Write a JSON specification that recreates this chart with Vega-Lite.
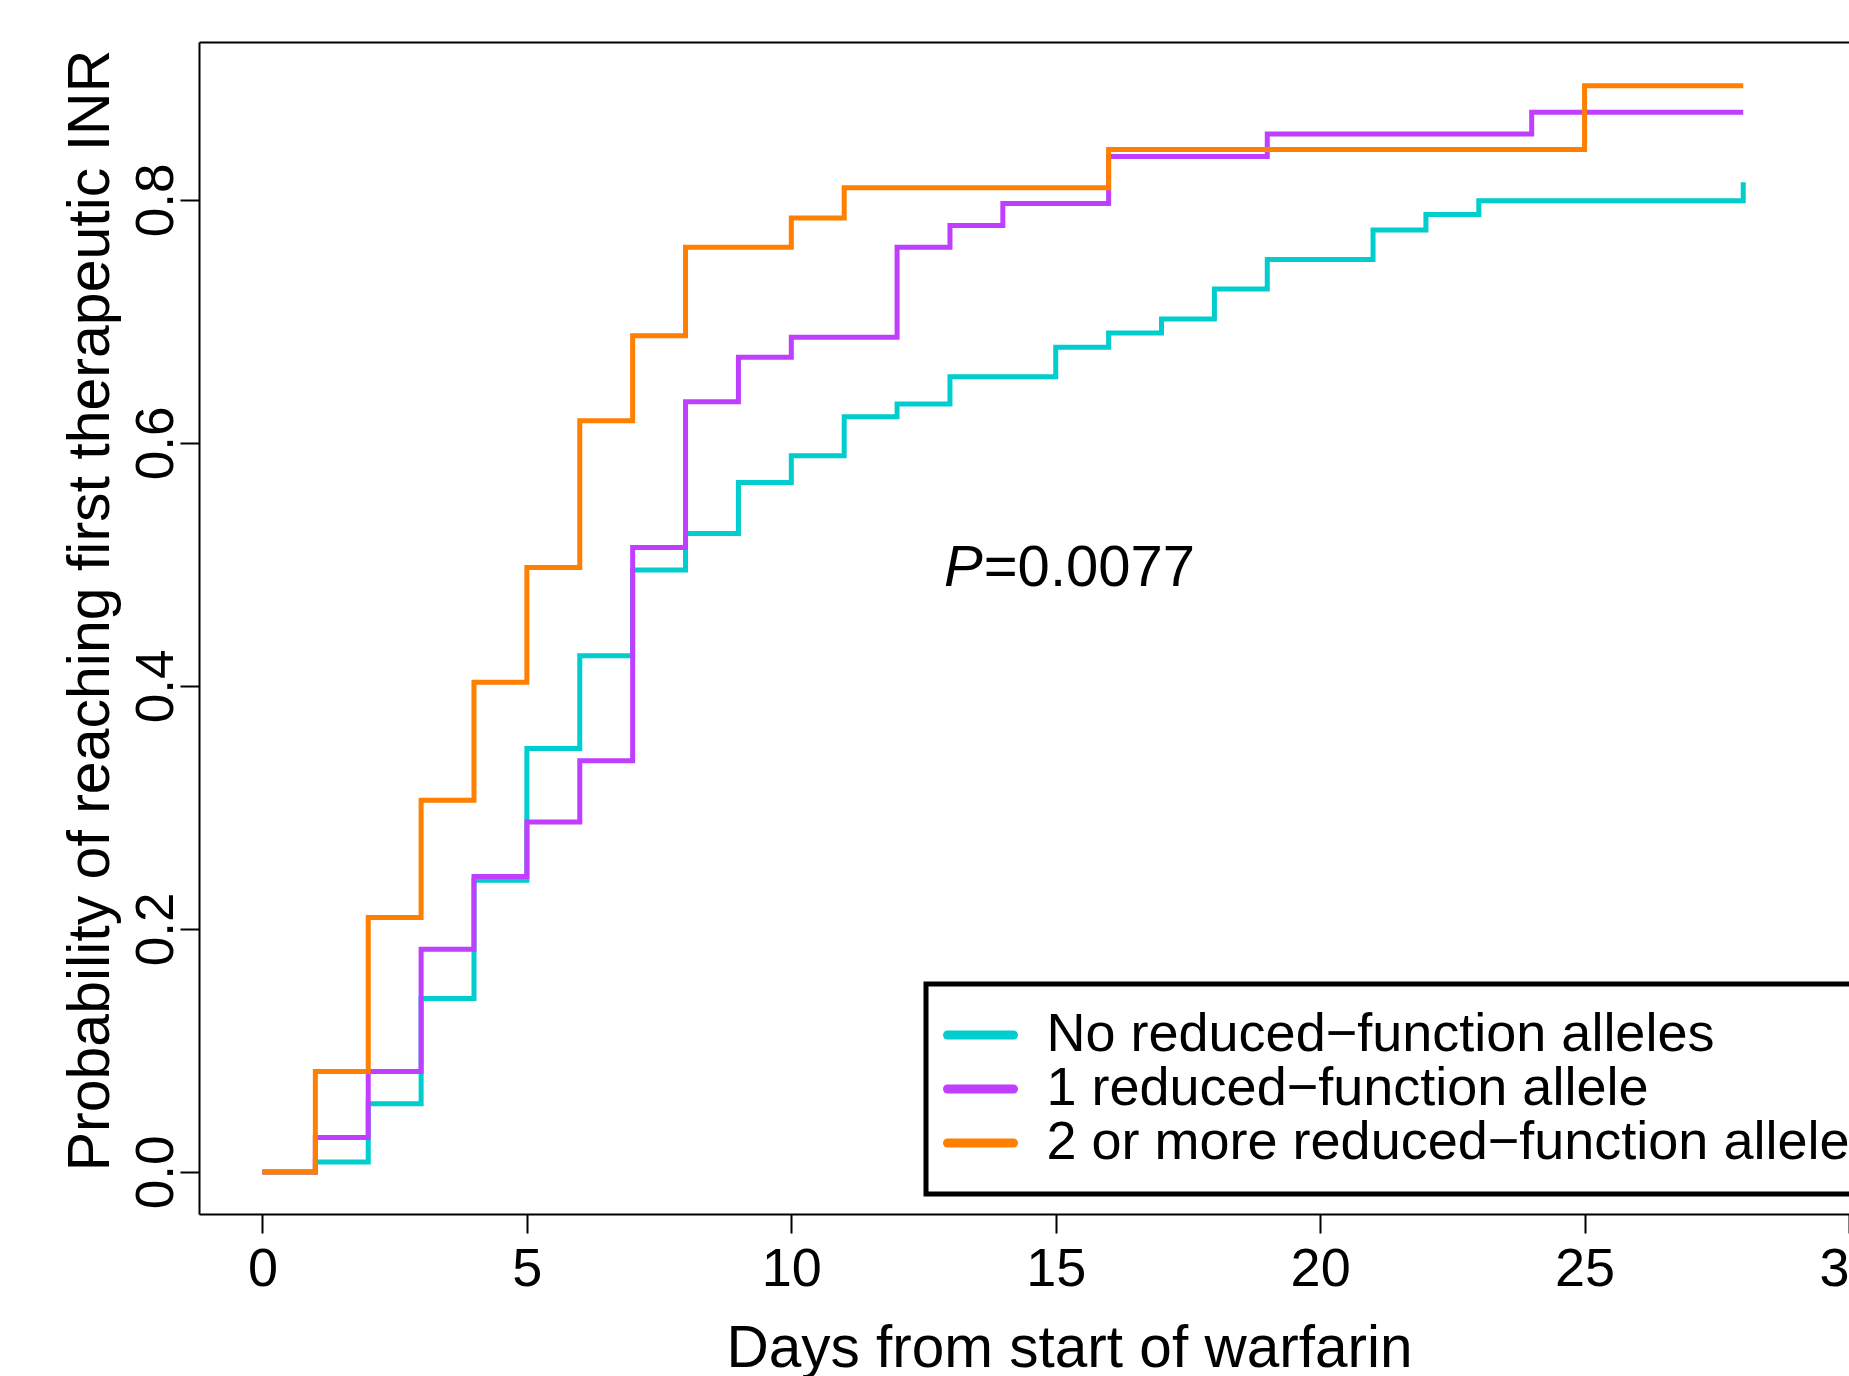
{
  "$schema": "https://vega.github.io/schema/vega-lite/v6.json",
  "width": 1650,
  "height": 1172,
  "autosize": {"type": "none"},
  "padding": {"left": 199, "top": 42, "right": 0, "bottom": 162},
  "background": "white",
  "config": {
    "view": {"stroke": null},
    "font": "Liberation Sans",
    "axis": {
      "grid": false,
      "domainColor": "black",
      "domainWidth": 2,
      "tickColor": "black",
      "tickWidth": 2,
      "tickSize": 19,
      "labelColor": "black",
      "labelFont": "Liberation Sans",
      "titleFont": "Liberation Sans",
      "titleColor": "black",
      "titleFontWeight": "normal"
    }
  },
  "datasets": {
    "curves": [
      {"group": "No reduced−function alleles", "day": 0, "prob": 0},
      {"group": "No reduced−function alleles", "day": 1, "prob": 0.0082},
      {"group": "No reduced−function alleles", "day": 2, "prob": 0.0562},
      {"group": "No reduced−function alleles", "day": 3, "prob": 0.1427},
      {"group": "No reduced−function alleles", "day": 4, "prob": 0.240},
      {"group": "No reduced−function alleles", "day": 5, "prob": 0.3485},
      {"group": "No reduced−function alleles", "day": 6, "prob": 0.4248},
      {"group": "No reduced−function alleles", "day": 7, "prob": 0.4954},
      {"group": "No reduced−function alleles", "day": 8, "prob": 0.5255},
      {"group": "No reduced−function alleles", "day": 9, "prob": 0.5675},
      {"group": "No reduced−function alleles", "day": 10, "prob": 0.5895},
      {"group": "No reduced−function alleles", "day": 11, "prob": 0.6216},
      {"group": "No reduced−function alleles", "day": 12, "prob": 0.632},
      {"group": "No reduced−function alleles", "day": 13, "prob": 0.6545},
      {"group": "No reduced−function alleles", "day": 15, "prob": 0.6787},
      {"group": "No reduced−function alleles", "day": 16, "prob": 0.6905},
      {"group": "No reduced−function alleles", "day": 17, "prob": 0.702},
      {"group": "No reduced−function alleles", "day": 18, "prob": 0.7267},
      {"group": "No reduced−function alleles", "day": 19, "prob": 0.7509},
      {"group": "No reduced−function alleles", "day": 21, "prob": 0.7753},
      {"group": "No reduced−function alleles", "day": 22, "prob": 0.788},
      {"group": "No reduced−function alleles", "day": 23, "prob": 0.7994},
      {"group": "No reduced−function alleles", "day": 28, "prob": 0.8145},
      {"group": "1 reduced−function allele", "day": 0, "prob": 0},
      {"group": "1 reduced−function allele", "day": 1, "prob": 0.0283},
      {"group": "1 reduced−function allele", "day": 2, "prob": 0.0826},
      {"group": "1 reduced−function allele", "day": 3, "prob": 0.1833},
      {"group": "1 reduced−function allele", "day": 4, "prob": 0.2431},
      {"group": "1 reduced−function allele", "day": 5, "prob": 0.288},
      {"group": "1 reduced−function allele", "day": 6, "prob": 0.3384},
      {"group": "1 reduced−function allele", "day": 7, "prob": 0.514},
      {"group": "1 reduced−function allele", "day": 8, "prob": 0.634},
      {"group": "1 reduced−function allele", "day": 9, "prob": 0.6705},
      {"group": "1 reduced−function allele", "day": 10, "prob": 0.687},
      {"group": "1 reduced−function allele", "day": 12, "prob": 0.761},
      {"group": "1 reduced−function allele", "day": 13, "prob": 0.779},
      {"group": "1 reduced−function allele", "day": 14, "prob": 0.797},
      {"group": "1 reduced−function allele", "day": 16, "prob": 0.8357},
      {"group": "1 reduced−function allele", "day": 19, "prob": 0.8543},
      {"group": "1 reduced−function allele", "day": 24, "prob": 0.8721},
      {"group": "1 reduced−function allele", "day": 28, "prob": 0.8721},
      {"group": "2 or more reduced−function alleles", "day": 0, "prob": 0},
      {"group": "2 or more reduced−function alleles", "day": 1, "prob": 0.0826},
      {"group": "2 or more reduced−function alleles", "day": 2, "prob": 0.2094},
      {"group": "2 or more reduced−function alleles", "day": 3, "prob": 0.306},
      {"group": "2 or more reduced−function alleles", "day": 4, "prob": 0.403},
      {"group": "2 or more reduced−function alleles", "day": 5, "prob": 0.4975},
      {"group": "2 or more reduced−function alleles", "day": 6, "prob": 0.6183},
      {"group": "2 or more reduced−function alleles", "day": 7, "prob": 0.6883},
      {"group": "2 or more reduced−function alleles", "day": 8, "prob": 0.761},
      {"group": "2 or more reduced−function alleles", "day": 10, "prob": 0.7852},
      {"group": "2 or more reduced−function alleles", "day": 11, "prob": 0.810},
      {"group": "2 or more reduced−function alleles", "day": 16, "prob": 0.8415},
      {"group": "2 or more reduced−function alleles", "day": 25, "prob": 0.894},
      {"group": "2 or more reduced−function alleles", "day": 28, "prob": 0.894}
    ],
    "ptext": [
      {"day": 13.62, "prob": 0.4823, "p": "P", "rest": "=0.0077"}
    ]
  },
  "layer": [
    {
      "data": {"name": "curves"},
      "mark": {"type": "line", "interpolate": "step-after", "strokeWidth": 5, "clip": true},
      "encoding": {
        "x": {
          "field": "day", "type": "quantitative",
          "scale": {"domain": [-1.2, 30], "nice": false, "zero": false},
          "axis": {
            "orient": "bottom",
            "values": [0, 5, 10, 15, 20, 25, 30],
            "labelFontSize": 54,
            "labelPadding": 9,
            "labelFlush": false,
            "labelOverlap": false,
            "labelBound": false,
            "title": "Days from start of warfarin",
            "titleFontSize": 58.5,
            "titleX": 870,
            "titleY": 152,
            "titleAlign": "center",
            "titleBaseline": "alphabetic"
          }
        },
        "y": {
          "field": "prob", "type": "quantitative",
          "scale": {"domain": [-0.0346, 0.930], "nice": false, "zero": false},
          "axis": {
            "values": [0, 0.2, 0.4, 0.6, 0.8],
            "format": ".1f",
            "labelFontSize": 53,
            "labelAngle": -90,
            "labelAlign": "center",
            "labelBaseline": "alphabetic",
            "labelPadding": 8,
            "labelOverlap": false,
            "title": "Probability of reaching first therapeutic INR",
            "titleFontSize": 59,
            "titleAngle": -90,
            "titleX": -91,
            "titleY": 568,
            "titleAlign": "center",
            "titleBaseline": "alphabetic"
          }
        },
        "color": {
          "field": "group", "type": "nominal",
          "scale": {
            "domain": ["No reduced−function alleles", "1 reduced−function allele", "2 or more reduced−function alleles"],
            "range": ["#00CDCD", "#BF3EFF", "#FF7F00"]
          },
          "legend": {
            "orient": "none",
            "legendX": 727,
            "legendY": 942,
            "direction": "vertical",
            "title": null,
            "strokeColor": "black",
            "fillColor": "white",
            "padding": 24,
            "symbolType": "M-2,0H2",
            "symbolSize": 1089,
            "symbolStrokeWidth": 9,
            "symbolOffset": 3.5,
            "labelFontSize": 54,
            "labelFont": "Liberation Sans",
            "labelColor": "black",
            "labelOffset": 39,
            "labelLimit": 0,
            "rowPadding": -6,
            "encode": {
              "legend": {"update": {"strokeWidth": {"value": 5}}},
              "symbols": {"update": {"strokeCap": {"value": "round"}}}
            }
          }
        }
      }
    },
    {
      "data": {"name": "ptext"},
      "mark": {"type": "text", "font": "Liberation Sans", "fontSize": 58, "fontStyle": "italic", "align": "right", "baseline": "alphabetic", "color": "black"},
      "encoding": {
        "x": {
          "field": "day", "type": "quantitative",
          "scale": {"domain": [-1.2, 30], "nice": false, "zero": false},
          "axis": {"orient": "top", "ticks": false, "labels": false, "title": null, "domain": true}
        },
        "y": {
          "field": "prob", "type": "quantitative",
          "scale": {"domain": [-0.0346, 0.930], "nice": false, "zero": false},
          "axis": null
        },
        "text": {"field": "p"}
      }
    },
    {
      "data": {"name": "ptext"},
      "mark": {"type": "text", "font": "Liberation Sans", "fontSize": 58, "align": "left", "baseline": "alphabetic", "color": "black", "dx": 1},
      "encoding": {
        "x": {
          "field": "day", "type": "quantitative",
          "scale": {"domain": [-1.2, 30], "nice": false, "zero": false},
          "axis": null
        },
        "y": {
          "field": "prob", "type": "quantitative",
          "scale": {"domain": [-0.0346, 0.930], "nice": false, "zero": false},
          "axis": null
        },
        "text": {"field": "rest"}
      }
    }
  ],
  "resolve": {"axis": {"x": "independent", "y": "independent"}}
}
